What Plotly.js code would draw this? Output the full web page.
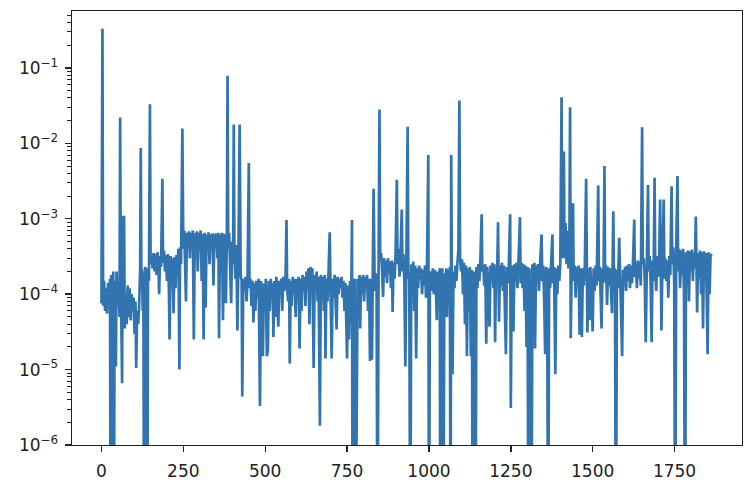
<!DOCTYPE html>
<html>
<head>
<meta charset="utf-8">
<script src="https://cdn.plot.ly/plotly-3.0.1.min.js"></script>
<style>html,body{margin:0;padding:0;background:#fff;}#chart{width:750px;height:492px;}</style>
</head>
<body>
<div id="chart"></div>
<script>
// [sample index, value] pairs, grouped by stretch of the signal
const segA = [[0,7.5e-5],[3,0.33],[5,7e-5],[8,1.5e-4],[11,6e-5],[14,1.2e-4],[17,5.5e-5],[20,1.4e-4],[23,8e-5],[26,1.6e-4],[28,1e-8],[30,1.8e-4],[33,6e-5],[36,2e-4],[38,1e-8],[40,1.5e-4],[44,1.1e-5],[46,2e-4],[49,7e-5],[52,1.6e-4],[55,5e-5],[57,0.022],[59,1.8e-4],[61,4e-5],[63,6.6e-6],[65,1.1e-3],[67,5e-5],[69,1.1e-3],[71,3.5e-5],[74,1e-4],[77,4e-5],[80,1.3e-4],[83,5e-5],[86,1.2e-4],[89,4.5e-5],[92,1e-4],[95,6e-5],[98,9e-5],[101,3e-5],[104,8e-5],[106,1.05e-5],[109,6e-5],[112,4e-5],[115,7e-5],[118,2e-4],[120,8.7e-3],[122,1.2e-4],[124,2.2e-4],[126,6e-5],[128,2e-4],[130,1e-8],[132,1.07e-5],[134,2.3e-4],[137,8e-5],[140,1e-8],[142,2.2e-4],[145,1.5e-4],[148,0.033],[150,2.5e-4]];
const segB = [[153,3.2e-4],[156,2.2e-4],[159,3.5e-4],[162,2e-4],[165,3.4e-4],[168,1.8e-4],[171,3.6e-4],[174,2.4e-4],[176,1e-4],[179,3.2e-4],[182,2.3e-4],[186,3.4e-3],[188,2.6e-4],[191,3.8e-4],[194,2e-4],[197,3.3e-4],[200,1.5e-4],[203,3.4e-4],[206,1.1e-4],[208,2.5e-5],[211,3.2e-4],[214,1.6e-4],[217,3e-4],[220,5.6e-5],[223,3.1e-4],[226,1.2e-4],[229,3.3e-4],[232,2e-4],[235,4e-4],[238,1e-5],[240,4.2e-4],[243,2.5e-4],[247,0.0157],[250,4e-4]];
const segC = [[253,7e-4],[255,3.5e-4],[258,8e-5],[261,6.5e-4],[264,4.5e-4],[267,6.8e-4],[270,3e-4],[273,6.5e-4],[276,5e-4],[279,7e-4],[282,2.5e-5],[285,6.4e-4],[288,4.2e-4],[291,6.8e-4],[294,2e-4],[297,6.5e-4],[300,4.8e-4],[303,7e-4],[306,1.5e-4],[309,6.3e-4],[312,2.5e-5],[315,6.5e-4],[318,6.6e-5],[321,6.2e-4],[324,4.5e-4],[327,6.6e-4],[330,2.5e-4],[333,6.2e-4],[336,4.5e-4],[339,6.4e-4],[342,1.3e-4],[345,6.3e-4],[348,4.8e-4],[351,6.4e-4],[354,3e-4],[357,6.5e-4],[359,2.6e-5],[362,6.2e-4],[365,4.5e-4],[368,6.5e-4],[371,4.5e-5],[374,6.3e-4],[377,4.5e-4],[380,7.6e-5],[383,6.7e-4],[385,0.079],[387,4e-4]];
const segD = [[390,6.5e-4],[393,2.2e-4],[396,7.6e-5],[399,5e-4],[402,2.5e-4],[404,0.0178],[406,3.5e-4],[409,1.6e-4],[412,4.5e-4],[415,3.3e-5],[418,2.5e-4],[422,0.0178],[425,1.8e-4],[428,1.5e-4],[430,4.4e-6],[433,1.6e-4],[436,1.1e-4],[440,1.7e-4],[443,8e-5],[446,1.6e-4],[450,5.5e-3],[452,1.2e-4]];
const segE = [[455,1.6e-4],[458,7e-5],[461,1.5e-4],[464,4.2e-5],[467,1.4e-4],[470,6e-5],[473,1.5e-4],[476,9e-5],[480,1.6e-4],[484,3.3e-6],[487,1.5e-4],[490,5e-5],[493,1.5e-5],[496,1.4e-4],[499,7e-5],[502,1.6e-4],[505,1.5e-5],[508,1.8e-5],[511,1.5e-4],[514,6e-5],[517,1.6e-4],[520,9e-5],[523,1.4e-4],[525,2.7e-5],[528,1.5e-4],[531,5e-5],[534,1.7e-4],[537,8e-5],[540,3.7e-5],[543,1.5e-4],[546,1e-4],[549,1.6e-4],[552,6e-5],[555,1.7e-4],[558,1.1e-4],[562,1.6e-4],[565,9.6e-4],[567,1.2e-4],[570,8e-5],[573,1.6e-4],[575,1.2e-5],[578,1.5e-4],[581,7e-5],[584,1.7e-4],[587,1e-4],[590,1.6e-4],[593,5e-5],[596,1.6e-4],[599,9e-5],[602,1.7e-4],[605,1.9e-5],[608,1.6e-4],[611,6e-5],[614,1.8e-4],[617,1.1e-4],[620,1.7e-4],[623,7e-5],[626,2e-4],[629,1.2e-4],[632,2.2e-4],[635,4e-5],[638,2.3e-4],[641,1.3e-4],[644,2.2e-4],[648,1.05e-5],[651,1.8e-4],[654,1.2e-4],[657,2e-4],[660,8e-5],[663,1.7e-4],[667,1.8e-6],[670,1.8e-4],[673,1e-4]];
const segF = [[676,1.7e-4],[679,6e-5],[682,1.8e-4],[684,1.4e-5],[687,1.6e-4],[690,8e-5],[693,1.7e-4],[697,6.6e-4],[699,1.5e-4],[701,7e-5],[703,1.4e-5],[706,1.6e-4],[709,9e-5],[712,1.8e-4],[715,5e-5],[718,3.4e-5],[721,1.7e-4],[724,1e-4],[727,1.6e-4],[730,1.2e-4],[733,1.7e-4],[736,9e-5],[739,1.5e-4],[742,6e-5],[745,1.4e-4],[748,3e-5],[750,1.4e-5],[753,1.3e-4],[756,2.5e-5],[759,1.5e-4],[762,4e-5],[765,9.6e-4],[767,1e-8],[770,1.3e-5],[773,1.6e-4],[776,1e-8],[779,1.2e-5],[782,1.6e-4],[785,7e-5],[788,1.8e-4],[790,3.5e-5],[793,1.7e-4],[796,1e-4],[799,1.8e-4],[802,8e-5],[805,1.7e-4],[808,1.2e-4],[811,1.8e-4],[814,6e-5],[817,1.6e-4],[820,1.3e-5],[823,1.6e-4],[826,1.35e-5],[829,1.7e-4],[831,2.5e-3],[834,1.6e-4],[837,1.1e-4],[840,1.9e-4],[843,1e-8],[846,1.5e-4],[849,0.028],[851,2.8e-4]];
const segG = [[854,3.5e-4],[857,2e-4],[860,9.2e-5],[863,3e-4],[866,1.7e-4],[869,2.8e-4],[872,1.4e-4],[875,3e-4],[878,1.9e-4],[881,2.7e-4],[884,1.2e-4],[887,2.8e-4],[889,5.8e-5],[892,2.6e-4],[895,1.6e-4],[898,3.2e-4],[902,3.3e-3],[904,2.5e-4],[907,4e-4],[910,1.7e-4],[913,3e-4],[917,1.33e-3],[919,2e-4],[922,3.4e-4],[925,1.5e-4],[928,1.1e-5],[931,2.6e-4],[935,0.0166],[937,2e-4],[940,1.5e-4],[943,1e-8],[946,2.5e-4],[949,1.4e-4],[952,2.7e-4],[955,6e-5],[958,2.4e-4],[961,1.4e-5],[964,2.2e-4],[967,1.2e-4],[970,2.4e-4],[973,1.6e-4],[976,2.2e-4],[979,1e-4],[982,2.1e-4],[985,1.3e-4],[988,2.4e-4],[991,9e-5],[994,2.2e-4],[998,7e-3],[1000,1e-8],[1003,1.8e-4]];
const segH = [[1006,2e-4],[1009,1.1e-4],[1012,2.2e-4],[1015,1e-4],[1018,2.1e-4],[1021,1.3e-4],[1024,4.5e-5],[1027,2e-4],[1030,1.2e-4],[1033,2.2e-4],[1035,1e-8],[1038,1.6e-4],[1041,2.2e-4],[1044,1e-8],[1047,1.9e-4],[1050,1.1e-4],[1053,2.2e-4],[1055,5e-5],[1058,2.1e-4],[1061,1.4e-4],[1064,2.3e-4],[1066,1e-8],[1068,7e-3],[1070,1.5e-4],[1072,8.7e-6],[1075,2e-4],[1078,1.2e-4],[1081,2.4e-4],[1084,1.5e-4],[1087,2.6e-4],[1090,3.8e-4],[1093,0.037],[1095,3e-4],[1098,2e-4],[1101,2.9e-4],[1104,1e-4],[1107,2.6e-4],[1110,4e-5],[1113,2.4e-4],[1116,1.5e-5],[1119,2.2e-4],[1122,6e-5],[1125,2.3e-4],[1128,1.5e-5],[1131,2.1e-4],[1134,1e-8],[1137,2e-4],[1140,1.5e-5],[1142,1e-8],[1145,2.3e-4],[1148,1.2e-4],[1151,2.5e-4],[1154,1.5e-4],[1157,2.7e-4],[1161,1.15e-3],[1163,2e-4]];
const segI = [[1166,2.4e-4],[1169,1.3e-4],[1172,2.5e-4],[1175,2.2e-5],[1178,2.3e-4],[1181,1.4e-4],[1185,3.7e-5],[1188,2.4e-4],[1191,1.5e-4],[1194,2.6e-4],[1197,1.2e-4],[1200,2.5e-4],[1202,2.3e-5],[1205,2.2e-4],[1208,1.5e-4],[1211,9e-4],[1214,4.3e-5],[1217,2.4e-4],[1220,1.3e-4],[1223,2.6e-4],[1226,1.1e-4],[1229,2.4e-4],[1232,7e-5],[1235,1.6e-5],[1238,2.3e-4],[1241,1.4e-4],[1244,2.5e-4],[1248,1.15e-3],[1250,3.1e-6],[1253,2.4e-4],[1256,1.3e-4],[1258,3.2e-5],[1261,2.5e-4],[1264,1.5e-4],[1267,2.6e-4],[1270,1.2e-4],[1273,2.4e-4],[1278,1.05e-3],[1280,1.4e-4],[1283,2.6e-4],[1286,1.2e-4],[1289,2.5e-4],[1292,6e-5],[1295,2.4e-4],[1298,2e-5],[1301,2.3e-4],[1304,1e-8],[1307,2.2e-4],[1310,2e-5],[1313,1e-8],[1316,2.5e-4],[1319,1.4e-4],[1322,2.6e-4],[1324,1.9e-5],[1327,2.4e-4],[1330,1.5e-4]];
const segJ = [[1333,2.5e-4],[1336,1.1e-4],[1339,2.3e-4],[1344,6.2e-4],[1346,1.5e-4],[1349,2.4e-4],[1352,8e-5],[1355,1.6e-5],[1358,2.3e-4],[1361,1.3e-4],[1364,1e-8],[1367,2.2e-4],[1370,1.2e-4],[1373,2.4e-4],[1377,6.2e-4],[1379,1.4e-4],[1382,2.3e-4],[1386,8.7e-6],[1389,2.2e-4],[1392,1e-4],[1395,2.4e-4],[1398,1.5e-4],[1401,2.5e-4],[1405,0.041],[1407,3e-4],[1409,8e-4],[1412,7.8e-3],[1414,3e-4],[1417,8.8e-4],[1420,2.5e-4],[1423,7e-4],[1426,2.2e-4],[1429,5e-4],[1431,0.03],[1433,2.6e-5],[1436,2.5e-4],[1440,1.6e-3],[1442,1.5e-4],[1445,2.4e-4],[1448,9e-5],[1451,2.3e-4],[1454,1.4e-4],[1457,2.4e-4],[1460,2.9e-5],[1463,2.2e-4],[1467,2.7e-5],[1470,2.2e-4],[1473,1.3e-4],[1476,2.4e-4],[1480,3.4e-3],[1482,1.4e-4],[1484,3.1e-5]];
const segK = [[1487,2.2e-4],[1490,4.5e-5],[1493,2.3e-4],[1496,1.2e-4],[1500,3.2e-5],[1503,2.2e-4],[1506,1.1e-4],[1509,2.4e-4],[1512,1.3e-4],[1517,2.75e-3],[1519,1.5e-4],[1522,2.3e-4],[1527,3.5e-5],[1530,2.2e-4],[1533,1.4e-4],[1536,5e-3],[1538,1.5e-4],[1541,2.4e-4],[1544,7.2e-5],[1547,2.3e-4],[1550,1.3e-4],[1553,2.2e-4],[1556,9e-5],[1559,5.6e-5],[1563,1.26e-3],[1565,1.6e-4],[1568,2.2e-4],[1571,1e-8],[1574,2.1e-4],[1577,1.2e-4],[1581,5.6e-4],[1583,1.4e-4],[1586,7.6e-5],[1590,1.5e-5],[1593,2.1e-4],[1596,1.3e-4],[1599,2.3e-4],[1602,1.1e-4],[1605,2.4e-4],[1608,1.5e-4],[1611,2.5e-4],[1614,1.2e-4],[1617,2.4e-4],[1620,1.4e-4],[1623,2.6e-4],[1627,9.8e-4],[1629,1.7e-4],[1632,2.6e-4],[1635,1.2e-4],[1638,2.8e-4],[1641,1.6e-4],[1644,2.7e-4],[1647,1.3e-4],[1651,0.0163],[1653,2.5e-4]];
const segL = [[1656,3e-4],[1659,1.6e-4],[1662,2.3e-5],[1665,2.8e-4],[1669,2.8e-3],[1671,2e-4],[1674,3.2e-4],[1677,1.4e-4],[1680,2.3e-5],[1683,2.8e-4],[1686,1.5e-4],[1689,3.5e-3],[1691,2.6e-4],[1694,1.1e-4],[1697,3.2e-4],[1700,1.7e-4],[1703,3e-4],[1706,1.8e-3],[1708,2.5e-4],[1710,3.3e-5],[1713,2.8e-4],[1717,1.8e-3],[1719,1.6e-4],[1722,3e-4],[1725,1.5e-4],[1728,2.8e-4],[1731,9e-5],[1734,3.2e-4],[1737,1.8e-4],[1741,2.7e-3],[1743,2.5e-4],[1746,4.2e-4],[1749,1.5e-4],[1752,1e-8],[1755,3.8e-4],[1759,3.7e-3],[1761,2e-4],[1764,4e-4],[1767,1.2e-4],[1770,3.8e-4],[1773,1.8e-4],[1776,4e-4],[1779,1e-4],[1782,1e-8],[1785,3.6e-4],[1788,1.4e-4],[1791,3.8e-4],[1794,8e-5],[1797,3.7e-4],[1800,2e-4],[1803,3.9e-4],[1806,1.5e-4],[1809,3.6e-4],[1812,2.2e-4],[1815,1.07e-3],[1817,2e-4],[1819,5.7e-5],[1822,3.5e-4],[1825,1.6e-4],[1828,3.8e-4],[1831,1e-4],[1834,3.6e-4],[1837,3.5e-5],[1840,3.7e-4],[1843,1.5e-4],[1846,3.5e-4],[1849,6e-5],[1851,1.6e-5],[1854,3.6e-4],[1857,1e-4],[1860,3.4e-4],[1863,3.2e-4]];

const xTickVals = [0, 250, 500, 750, 1000, 1250, 1500, 1750];
const xTickText = ['0', '250', '500', '750', '1000', '1250', '1500', '1750'];
const yTickVals = [1e-6, 1e-5, 1e-4, 1e-3, 1e-2, 1e-1];
const yTickText = ['10<sup>−6</sup>', '10<sup>−5</sup>', '10<sup>−4</sup>', '10<sup>−3</sup>', '10<sup>−2</sup>', '10<sup>−1</sup>'];

const all = [].concat(segA, segB, segC, segD, segE, segF, segG, segH, segI, segJ, segK, segL);
const xs = all.map(p => p[0]);
const ys = all.map(p => p[1]);

const minorVals = [];
for (let d = -7; d <= 0; d++) {
  for (let m = 2; m <= 9; m++) minorVals.push(m * Math.pow(10, d));
}

const axisColor = '#222';
const font = {family: 'DejaVu Sans, sans-serif', size: 17, color: '#222'};

Plotly.newPlot('chart', [{
  x: xs, y: ys, type: 'scatter', mode: 'lines',
  line: {color: '#3274b0', width: 2.7},
  hoverinfo: 'skip'
}], {
  width: 750, height: 492,
  margin: {l: 72, r: 8, t: 11, b: 47},
  paper_bgcolor: '#fff', plot_bgcolor: '#fff',
  showlegend: false,
  font: font,
  xaxis: {
    range: [-90, 1956], showgrid: false, zeroline: false,
    showline: true, mirror: true, linecolor: axisColor, linewidth: 1.4,
    ticks: 'outside', ticklen: 6, tickwidth: 1.4, tickcolor: axisColor,
    tickmode: 'array', tickvals: xTickVals, ticktext: xTickText,
    tickfont: font,
    ticklabelstandoff: 4
  },
  yaxis: {
    type: 'log', range: [-6, -0.245], showgrid: false, zeroline: false,
    showline: true, mirror: true, linecolor: axisColor, linewidth: 1.4,
    ticks: 'outside', ticklen: 6, tickwidth: 1.4, tickcolor: axisColor,
    tickmode: 'array', tickvals: yTickVals, ticktext: yTickText,
    tickfont: font,
    ticklabelstandoff: 3,
    minor: {ticks: 'outside', ticklen: 3.5, tickwidth: 1, tickcolor: axisColor, tickmode: 'array', tickvals: minorVals, showgrid: false}
  }
}, {staticPlot: true, displayModeBar: false});
</script>
</body>
</html>
